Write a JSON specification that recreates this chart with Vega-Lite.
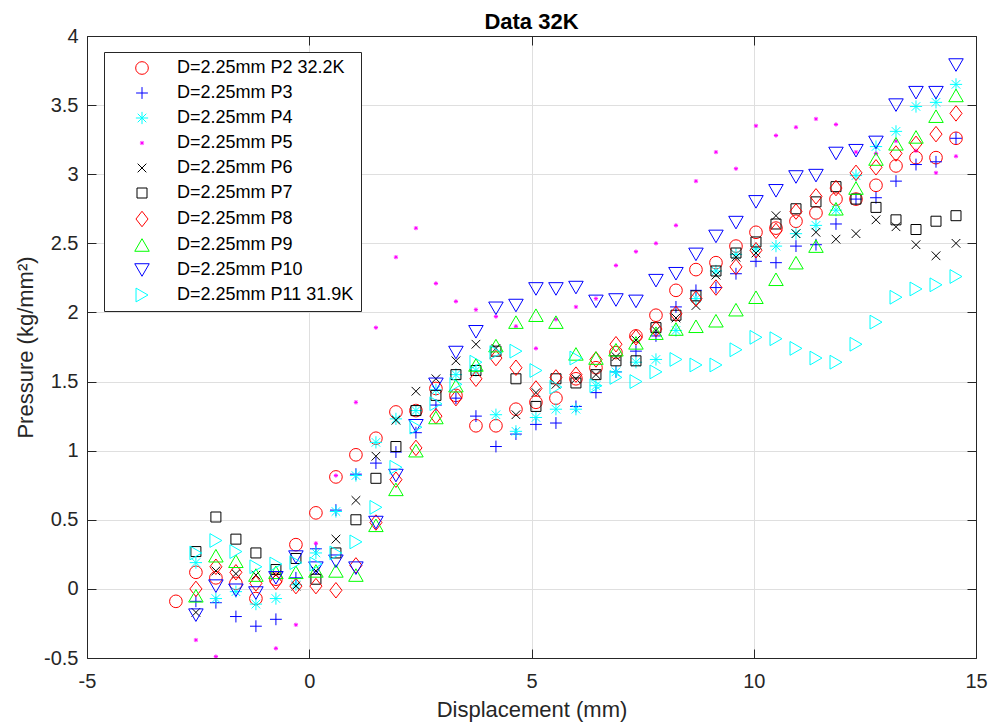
{
"$schema": "https://vega.github.io/schema/vega-lite/v6.json",
"width": 889,
"height": 622,
"autosize": {"type": "none"},
"padding": {"left": 87, "top": 36, "right": 12, "bottom": 66},
"background": "white",
"title": {"text": "Data 32K", "fontSize": 22, "fontWeight": "bold", "font": "Liberation Sans", "color": "#000000", "offset": -8, "anchor": "middle"},
"data": {"values": [
{"s":"P2","x":-3,"y":-0.09},{"s":"P2","x":-2.55,"y":0.12},{"s":"P2","x":-2.1,"y":0.08},{"s":"P2","x":-1.65,"y":0.04},{"s":"P2","x":-1.2,"y":-0.07},{"s":"P2","x":-0.75,"y":0.07},{"s":"P2","x":-0.3,"y":0.32},{"s":"P2","x":0.15,"y":0.55},{"s":"P2","x":0.6,"y":0.81},{"s":"P2","x":1.05,"y":0.97},{"s":"P2","x":1.5,"y":1.09},{"s":"P2","x":1.95,"y":1.28},{"s":"P2","x":2.4,"y":1.29},{"s":"P2","x":2.85,"y":1.45},{"s":"P2","x":3.3,"y":1.40},{"s":"P2","x":3.75,"y":1.18},{"s":"P2","x":4.2,"y":1.18},{"s":"P2","x":4.65,"y":1.30},{"s":"P2","x":5.1,"y":1.35},{"s":"P2","x":5.55,"y":1.38},{"s":"P2","x":6,"y":1.52},{"s":"P2","x":6.45,"y":1.60},{"s":"P2","x":6.9,"y":1.71},{"s":"P2","x":7.35,"y":1.83},{"s":"P2","x":7.8,"y":1.98},{"s":"P2","x":8.25,"y":2.16},{"s":"P2","x":8.7,"y":2.31},{"s":"P2","x":9.15,"y":2.36},{"s":"P2","x":9.6,"y":2.48},{"s":"P2","x":10.05,"y":2.58},{"s":"P2","x":10.5,"y":2.61},{"s":"P2","x":10.95,"y":2.66},{"s":"P2","x":11.4,"y":2.72},{"s":"P2","x":11.85,"y":2.82},{"s":"P2","x":12.3,"y":2.82},{"s":"P2","x":12.75,"y":2.92},{"s":"P2","x":13.2,"y":3.06},{"s":"P2","x":13.65,"y":3.12},{"s":"P2","x":14.1,"y":3.12},{"s":"P2","x":14.55,"y":3.26},
{"s":"P3","x":-2.55,"y":-0.09},{"s":"P3","x":-2.1,"y":-0.10},{"s":"P3","x":-1.65,"y":-0.20},{"s":"P3","x":-1.2,"y":-0.27},{"s":"P3","x":-0.75,"y":-0.22},{"s":"P3","x":-0.3,"y":0.08},{"s":"P3","x":0.15,"y":0.29},{"s":"P3","x":0.6,"y":0.57},{"s":"P3","x":1.05,"y":0.83},{"s":"P3","x":1.5,"y":0.91},{"s":"P3","x":1.95,"y":0.99},{"s":"P3","x":2.4,"y":1.13},{"s":"P3","x":2.85,"y":1.33},{"s":"P3","x":3.3,"y":1.38},{"s":"P3","x":3.75,"y":1.25},{"s":"P3","x":4.2,"y":1.03},{"s":"P3","x":4.65,"y":1.12},{"s":"P3","x":5.1,"y":1.19},{"s":"P3","x":5.55,"y":1.20},{"s":"P3","x":6,"y":1.32},{"s":"P3","x":6.45,"y":1.42},{"s":"P3","x":6.9,"y":1.57},{"s":"P3","x":7.35,"y":1.72},{"s":"P3","x":7.8,"y":1.83},{"s":"P3","x":8.25,"y":2.04},{"s":"P3","x":8.7,"y":2.16},{"s":"P3","x":9.15,"y":2.18},{"s":"P3","x":9.6,"y":2.28},{"s":"P3","x":10.05,"y":2.37},{"s":"P3","x":10.5,"y":2.36},{"s":"P3","x":10.95,"y":2.48},{"s":"P3","x":11.4,"y":2.49},{"s":"P3","x":11.85,"y":2.64},{"s":"P3","x":12.3,"y":2.82},{"s":"P3","x":12.75,"y":2.83},{"s":"P3","x":13.2,"y":2.95},{"s":"P3","x":13.65,"y":3.07},{"s":"P3","x":14.1,"y":3.09},{"s":"P3","x":14.55,"y":3.26},
{"s":"P4","x":-2.55,"y":0.19},{"s":"P4","x":-2.1,"y":-0.07},{"s":"P4","x":-1.65,"y":-0.02},{"s":"P4","x":-1.2,"y":-0.11},{"s":"P4","x":-0.75,"y":-0.07},{"s":"P4","x":-0.3,"y":0.03},{"s":"P4","x":0.15,"y":0.26},{"s":"P4","x":0.6,"y":0.56},{"s":"P4","x":1.05,"y":0.82},{"s":"P4","x":1.5,"y":1.06},{"s":"P4","x":1.95,"y":1.23},{"s":"P4","x":2.4,"y":1.29},{"s":"P4","x":2.85,"y":1.44},{"s":"P4","x":3.3,"y":1.55},{"s":"P4","x":3.75,"y":1.58},{"s":"P4","x":4.2,"y":1.26},{"s":"P4","x":4.65,"y":1.14},{"s":"P4","x":5.1,"y":1.24},{"s":"P4","x":5.55,"y":1.30},{"s":"P4","x":6,"y":1.30},{"s":"P4","x":6.45,"y":1.47},{"s":"P4","x":6.9,"y":1.57},{"s":"P4","x":7.35,"y":1.64},{"s":"P4","x":7.8,"y":1.66},{"s":"P4","x":8.25,"y":1.87},{"s":"P4","x":8.7,"y":2.10},{"s":"P4","x":9.15,"y":2.30},{"s":"P4","x":9.6,"y":2.42},{"s":"P4","x":10.05,"y":2.46},{"s":"P4","x":10.5,"y":2.48},{"s":"P4","x":10.95,"y":2.57},{"s":"P4","x":11.4,"y":2.63},{"s":"P4","x":11.85,"y":2.74},{"s":"P4","x":12.3,"y":2.99},{"s":"P4","x":12.75,"y":3.20},{"s":"P4","x":13.2,"y":3.31},{"s":"P4","x":13.65,"y":3.49},{"s":"P4","x":14.1,"y":3.52},{"s":"P4","x":14.55,"y":3.65},
{"s":"P5","x":-2.55,"y":-0.37},{"s":"P5","x":-2.1,"y":-0.49},{"s":"P5","x":-0.75,"y":-0.43},{"s":"P5","x":-0.3,"y":-0.26},{"s":"P5","x":0.15,"y":0.33},{"s":"P5","x":0.6,"y":0.82},{"s":"P5","x":1.05,"y":1.35},{"s":"P5","x":1.5,"y":1.89},{"s":"P5","x":1.95,"y":2.40},{"s":"P5","x":2.4,"y":2.61},{"s":"P5","x":2.85,"y":2.21},{"s":"P5","x":3.3,"y":2.08},{"s":"P5","x":3.75,"y":2.02},{"s":"P5","x":4.2,"y":1.97},{"s":"P5","x":4.65,"y":1.90},{"s":"P5","x":5.1,"y":1.74},{"s":"P5","x":5.55,"y":1.95},{"s":"P5","x":6,"y":2.04},{"s":"P5","x":6.45,"y":2.10},{"s":"P5","x":6.9,"y":2.34},{"s":"P5","x":7.35,"y":2.44},{"s":"P5","x":7.8,"y":2.50},{"s":"P5","x":8.25,"y":2.63},{"s":"P5","x":8.7,"y":2.95},{"s":"P5","x":9.15,"y":3.16},{"s":"P5","x":9.6,"y":3.04},{"s":"P5","x":10.05,"y":3.35},{"s":"P5","x":10.5,"y":3.28},{"s":"P5","x":10.95,"y":3.34},{"s":"P5","x":11.4,"y":3.40},{"s":"P5","x":11.85,"y":3.36},{"s":"P5","x":12.3,"y":3.16},{"s":"P5","x":12.75,"y":3.15},{"s":"P5","x":13.2,"y":3.24},{"s":"P5","x":13.65,"y":3.17},{"s":"P5","x":14.1,"y":3.01},{"s":"P5","x":14.55,"y":3.13},
{"s":"P6","x":-2.55,"y":-0.17},{"s":"P6","x":-2.1,"y":0.13},{"s":"P6","x":-1.65,"y":0.11},{"s":"P6","x":-1.2,"y":0.10},{"s":"P6","x":-0.75,"y":0.10},{"s":"P6","x":-0.3,"y":0.02},{"s":"P6","x":0.15,"y":0.13},{"s":"P6","x":0.6,"y":0.36},{"s":"P6","x":1.05,"y":0.64},{"s":"P6","x":1.5,"y":0.96},{"s":"P6","x":1.95,"y":1.22},{"s":"P6","x":2.4,"y":1.43},{"s":"P6","x":2.85,"y":1.52},{"s":"P6","x":3.3,"y":1.65},{"s":"P6","x":3.75,"y":1.77},{"s":"P6","x":4.2,"y":1.74},{"s":"P6","x":4.65,"y":1.26},{"s":"P6","x":5.1,"y":1.42},{"s":"P6","x":5.55,"y":1.48},{"s":"P6","x":6,"y":1.52},{"s":"P6","x":6.45,"y":1.55},{"s":"P6","x":6.9,"y":1.68},{"s":"P6","x":7.35,"y":1.80},{"s":"P6","x":7.8,"y":1.87},{"s":"P6","x":8.25,"y":1.96},{"s":"P6","x":8.7,"y":2.05},{"s":"P6","x":9.15,"y":2.27},{"s":"P6","x":9.6,"y":2.40},{"s":"P6","x":10.05,"y":2.43},{"s":"P6","x":10.5,"y":2.70},{"s":"P6","x":10.95,"y":2.57},{"s":"P6","x":11.4,"y":2.58},{"s":"P6","x":11.85,"y":2.53},{"s":"P6","x":12.3,"y":2.57},{"s":"P6","x":12.75,"y":2.67},{"s":"P6","x":13.2,"y":2.62},{"s":"P6","x":13.65,"y":2.49},{"s":"P6","x":14.1,"y":2.41},{"s":"P6","x":14.55,"y":2.50},
{"s":"P7","x":-2.55,"y":0.27},{"s":"P7","x":-2.1,"y":0.52},{"s":"P7","x":-1.65,"y":0.36},{"s":"P7","x":-1.2,"y":0.26},{"s":"P7","x":-0.75,"y":0.14},{"s":"P7","x":-0.3,"y":0.22},{"s":"P7","x":0.15,"y":0.07},{"s":"P7","x":0.6,"y":0.26},{"s":"P7","x":1.05,"y":0.50},{"s":"P7","x":1.5,"y":0.80},{"s":"P7","x":1.95,"y":1.03},{"s":"P7","x":2.4,"y":1.29},{"s":"P7","x":2.85,"y":1.40},{"s":"P7","x":3.3,"y":1.55},{"s":"P7","x":3.75,"y":1.58},{"s":"P7","x":4.2,"y":1.72},{"s":"P7","x":4.65,"y":1.52},{"s":"P7","x":5.1,"y":1.32},{"s":"P7","x":5.55,"y":1.52},{"s":"P7","x":6,"y":1.49},{"s":"P7","x":6.45,"y":1.55},{"s":"P7","x":6.9,"y":1.65},{"s":"P7","x":7.35,"y":1.65},{"s":"P7","x":7.8,"y":1.89},{"s":"P7","x":8.25,"y":1.98},{"s":"P7","x":8.7,"y":2.12},{"s":"P7","x":9.15,"y":2.30},{"s":"P7","x":9.6,"y":2.43},{"s":"P7","x":10.05,"y":2.51},{"s":"P7","x":10.5,"y":2.64},{"s":"P7","x":10.95,"y":2.75},{"s":"P7","x":11.4,"y":2.80},{"s":"P7","x":11.85,"y":2.91},{"s":"P7","x":12.3,"y":2.82},{"s":"P7","x":12.75,"y":2.76},{"s":"P7","x":13.2,"y":2.67},{"s":"P7","x":13.65,"y":2.60},{"s":"P7","x":14.1,"y":2.66},{"s":"P7","x":14.55,"y":2.70},
{"s":"P8","x":-2.55,"y":0.00},{"s":"P8","x":-2.1,"y":0.16},{"s":"P8","x":-1.65,"y":0.12},{"s":"P8","x":-1.2,"y":0.04},{"s":"P8","x":-0.75,"y":0.05},{"s":"P8","x":-0.3,"y":0.02},{"s":"P8","x":0.15,"y":0.02},{"s":"P8","x":0.6,"y":-0.01},{"s":"P8","x":1.05,"y":0.17},{"s":"P8","x":1.5,"y":0.48},{"s":"P8","x":1.95,"y":0.79},{"s":"P8","x":2.4,"y":1.02},{"s":"P8","x":2.85,"y":1.25},{"s":"P8","x":3.3,"y":1.38},{"s":"P8","x":3.75,"y":1.52},{"s":"P8","x":4.2,"y":1.67},{"s":"P8","x":4.65,"y":1.60},{"s":"P8","x":5.1,"y":1.45},{"s":"P8","x":5.55,"y":1.53},{"s":"P8","x":6,"y":1.55},{"s":"P8","x":6.45,"y":1.66},{"s":"P8","x":6.9,"y":1.77},{"s":"P8","x":7.35,"y":1.82},{"s":"P8","x":7.8,"y":1.88},{"s":"P8","x":8.25,"y":1.99},{"s":"P8","x":8.7,"y":2.10},{"s":"P8","x":9.15,"y":2.18},{"s":"P8","x":9.6,"y":2.33},{"s":"P8","x":10.05,"y":2.45},{"s":"P8","x":10.5,"y":2.59},{"s":"P8","x":10.95,"y":2.73},{"s":"P8","x":11.4,"y":2.84},{"s":"P8","x":11.85,"y":2.90},{"s":"P8","x":12.3,"y":3.01},{"s":"P8","x":12.75,"y":3.05},{"s":"P8","x":13.2,"y":3.15},{"s":"P8","x":13.65,"y":3.22},{"s":"P8","x":14.1,"y":3.29},{"s":"P8","x":14.55,"y":3.44},
{"s":"P9","x":-2.55,"y":-0.05},{"s":"P9","x":-2.1,"y":0.24},{"s":"P9","x":-1.65,"y":0.20},{"s":"P9","x":-1.2,"y":0.10},{"s":"P9","x":-0.75,"y":0.12},{"s":"P9","x":-0.3,"y":0.12},{"s":"P9","x":0.15,"y":0.13},{"s":"P9","x":0.6,"y":0.13},{"s":"P9","x":1.05,"y":0.10},{"s":"P9","x":1.5,"y":0.46},{"s":"P9","x":1.95,"y":0.72},{"s":"P9","x":2.4,"y":1.00},{"s":"P9","x":2.85,"y":1.24},{"s":"P9","x":3.3,"y":1.47},{"s":"P9","x":3.75,"y":1.62},{"s":"P9","x":4.2,"y":1.76},{"s":"P9","x":4.65,"y":1.93},{"s":"P9","x":5.1,"y":1.98},{"s":"P9","x":5.55,"y":1.93},{"s":"P9","x":6,"y":1.70},{"s":"P9","x":6.45,"y":1.67},{"s":"P9","x":6.9,"y":1.73},{"s":"P9","x":7.35,"y":1.78},{"s":"P9","x":7.8,"y":1.85},{"s":"P9","x":8.25,"y":1.88},{"s":"P9","x":8.7,"y":1.90},{"s":"P9","x":9.15,"y":1.94},{"s":"P9","x":9.6,"y":2.02},{"s":"P9","x":10.05,"y":2.11},{"s":"P9","x":10.5,"y":2.24},{"s":"P9","x":10.95,"y":2.36},{"s":"P9","x":11.4,"y":2.48},{"s":"P9","x":11.85,"y":2.75},{"s":"P9","x":12.3,"y":2.90},{"s":"P9","x":12.75,"y":3.11},{"s":"P9","x":13.2,"y":3.22},{"s":"P9","x":13.65,"y":3.27},{"s":"P9","x":14.1,"y":3.42},{"s":"P9","x":14.55,"y":3.57},
{"s":"P10","x":-2.55,"y":-0.19},{"s":"P10","x":-2.1,"y":0.02},{"s":"P10","x":-1.65,"y":-0.01},{"s":"P10","x":-1.2,"y":-0.03},{"s":"P10","x":-0.75,"y":0.08},{"s":"P10","x":-0.3,"y":0.23},{"s":"P10","x":0.15,"y":0.15},{"s":"P10","x":0.6,"y":0.20},{"s":"P10","x":1.05,"y":0.15},{"s":"P10","x":1.5,"y":0.48},{"s":"P10","x":1.95,"y":0.82},{"s":"P10","x":2.4,"y":1.18},{"s":"P10","x":2.85,"y":1.48},{"s":"P10","x":3.3,"y":1.71},{"s":"P10","x":3.75,"y":1.86},{"s":"P10","x":4.2,"y":2.03},{"s":"P10","x":4.65,"y":2.05},{"s":"P10","x":5.1,"y":2.17},{"s":"P10","x":5.55,"y":2.17},{"s":"P10","x":6,"y":2.18},{"s":"P10","x":6.45,"y":2.08},{"s":"P10","x":6.9,"y":2.09},{"s":"P10","x":7.35,"y":2.08},{"s":"P10","x":7.8,"y":2.23},{"s":"P10","x":8.25,"y":2.28},{"s":"P10","x":8.7,"y":2.42},{"s":"P10","x":9.15,"y":2.55},{"s":"P10","x":9.6,"y":2.65},{"s":"P10","x":10.05,"y":2.80},{"s":"P10","x":10.5,"y":2.88},{"s":"P10","x":10.95,"y":2.98},{"s":"P10","x":11.4,"y":2.99},{"s":"P10","x":11.85,"y":3.15},{"s":"P10","x":12.3,"y":3.17},{"s":"P10","x":12.75,"y":3.23},{"s":"P10","x":13.2,"y":3.50},{"s":"P10","x":13.65,"y":3.59},{"s":"P10","x":14.1,"y":3.59},{"s":"P10","x":14.55,"y":3.79},
{"s":"P11","x":-2.55,"y":0.26},{"s":"P11","x":-2.1,"y":0.35},{"s":"P11","x":-1.65,"y":0.27},{"s":"P11","x":-1.2,"y":0.16},{"s":"P11","x":-0.75,"y":0.18},{"s":"P11","x":-0.3,"y":0.19},{"s":"P11","x":0.15,"y":0.18},{"s":"P11","x":0.6,"y":0.26},{"s":"P11","x":1.05,"y":0.34},{"s":"P11","x":1.5,"y":0.59},{"s":"P11","x":1.95,"y":0.88},{"s":"P11","x":2.4,"y":1.17},{"s":"P11","x":2.85,"y":1.34},{"s":"P11","x":3.3,"y":1.48},{"s":"P11","x":3.75,"y":1.64},{"s":"P11","x":4.2,"y":1.71},{"s":"P11","x":4.65,"y":1.72},{"s":"P11","x":5.1,"y":1.58},{"s":"P11","x":5.55,"y":1.46},{"s":"P11","x":6,"y":1.67},{"s":"P11","x":6.45,"y":1.47},{"s":"P11","x":6.9,"y":1.53},{"s":"P11","x":7.35,"y":1.50},{"s":"P11","x":7.8,"y":1.57},{"s":"P11","x":8.25,"y":1.66},{"s":"P11","x":8.7,"y":1.62},{"s":"P11","x":9.15,"y":1.62},{"s":"P11","x":9.6,"y":1.73},{"s":"P11","x":10.05,"y":1.82},{"s":"P11","x":10.5,"y":1.81},{"s":"P11","x":10.95,"y":1.74},{"s":"P11","x":11.4,"y":1.67},{"s":"P11","x":11.85,"y":1.64},{"s":"P11","x":12.3,"y":1.77},{"s":"P11","x":12.75,"y":1.93},{"s":"P11","x":13.2,"y":2.11},{"s":"P11","x":13.65,"y":2.17},{"s":"P11","x":14.1,"y":2.20},{"s":"P11","x":14.55,"y":2.26}
]},
"layer": [
{
"mark": {"type": "point", "filled": false, "strokeWidth": 1, "opacity": 1, "clip": true},
"encoding": {
"x": {"field": "x", "type": "quantitative", "scale": {"domain": [-5, 15], "nice": false, "zero": false},
"axis": {"orient": "bottom", "values": [-5, 0, 5, 10, 15], "format": "~g", "title": "Displacement (mm)", "labelExpr": "replace(datum.label, '\u2212', '-')"}},
"y": {"field": "y", "type": "quantitative", "scale": {"domain": [-0.5, 4], "nice": false, "zero": false},
"axis": {"orient": "left", "values": [-0.5, 0, 0.5, 1, 1.5, 2, 2.5, 3, 3.5, 4], "format": "~g", "title": "Pressure (kg/mm²)", "labelExpr": "replace(datum.label, '\u2212', '-')", "labelPadding": 18, "titlePadding": 6}},
"color": {"field": "s", "type": "nominal",
"scale": {"domain": ["P2","P3","P4","P5","P6","P7","P8","P9","P10","P11"], "range": ["#FF0000","#0000FF","#00FFFF","#FF00FF","#000000","#000000","#FF0000","#00FF00","#0000FF","#00FFFF"]},
"legend": {"orient": "none", "legendX": 17, "legendY": 16, "title": null, "direction": "vertical",
"labelExpr": "'D=2.25mm ' + datum.label + (datum.label == 'P2' ? ' 32.2K' : datum.label == 'P11' ? ' 31.9K' : '')"}},
"shape": {"field": "s", "type": "nominal",
"scale": {"domain": ["P2","P3","P4","P5","P6","P7","P8","P9","P10","P11"], "range": ["circle","M-1,0L1,0M0,-1L0,1","M-1,0L1,0M0,-1L0,1M-0.7,-0.7L0.7,0.7M-0.7,0.7L0.7,-0.7","M-1,0L1,0M0,-1L0,1M-0.7,-0.7L0.7,0.7M-0.7,0.7L0.7,-0.7","M-1,-1L1,1M-1,1L1,-1","square","M0,-1L0.78,0L0,1L-0.78,0Z","triangle-up","triangle-down","triangle-right"]}},
"size": {"field": "s", "type": "nominal",
"scale": {"type": "ordinal", "domain": ["P2","P3","P4","P5","P6","P7","P8","P9","P10","P11"], "range": [160, 140, 150, 18, 75, 100, 240, 210, 210, 190]}}
}
},
{
"mark": {"type": "point", "opacity": 0},
"encoding": {
"x": {"field": "x", "type": "quantitative", "axis": {"orient": "top", "values": [-5, 0, 5, 10, 15], "labels": false, "title": null, "grid": false}},
"y": {"field": "y", "type": "quantitative", "axis": {"orient": "right", "values": [-0.5, 0, 0.5, 1, 1.5, 2, 2.5, 3, 3.5, 4], "labels": false, "title": null, "grid": false}}
}
}
],
"resolve": {"axis": {"x": "independent", "y": "independent"}},
"config": {
"view": {"stroke": null},
"font": "Liberation Sans",
"axis": {"tickSize": -9, "tickColor": "#262626", "tickWidth": 1, "domainColor": "#262626", "domainWidth": 1, "grid": true, "gridColor": "#dfdfdf", "gridWidth": 1, "labelFont": "Liberation Sans", "labelFontSize": 20, "labelColor": "#262626", "labelPadding": 22, "labelFlush": false, "labelOverlap": false, "labelBound": false, "titleFont": "Liberation Sans", "titleFontSize": 22, "titleFontWeight": "normal", "titleColor": "#262626", "titlePadding": 8},
"legend": {"strokeColor": "#262626", "strokeWidth": 1, "fillColor": "white", "padding": 7, "rowPadding": 7, "labelFont": "Liberation Sans", "labelFontSize": 18, "labelColor": "#000000", "labelLimit": 400, "symbolOffset": 22, "labelOffset": 26, "symbolStrokeWidth": 1}
}
}
